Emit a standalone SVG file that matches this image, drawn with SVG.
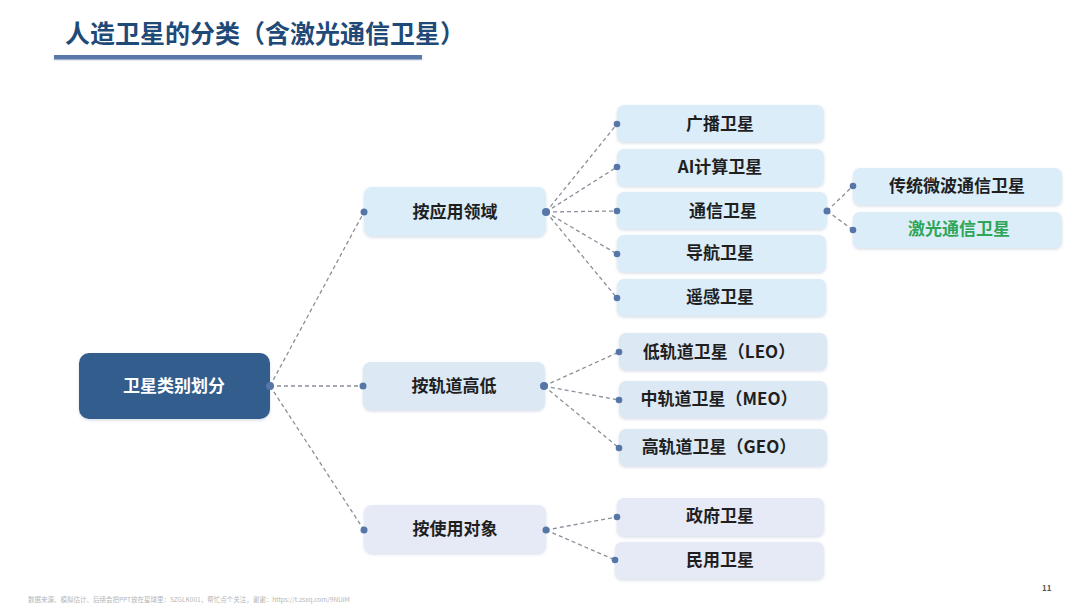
<svg xmlns="http://www.w3.org/2000/svg" width="1080" height="608" viewBox="0 0 1080 608">
<defs>
<filter id="sh" x="-10%" y="-20%" width="120%" height="150%">
<feDropShadow dx="0" dy="1.5" stdDeviation="1.5" flood-color="#8fa3bf" flood-opacity="0.35"/>
</filter>
<style>
text{font-family:"Noto Sans CJK SC","Noto Sans",sans-serif;}
.lbl{font-size:17px;font-weight:700;fill:#1f1f1f;text-anchor:middle;dominant-baseline:central;transform:translate(0px,-2px);}
.b1{fill:#daedf9;}
.b2{fill:#dce8f4;}
.b3{fill:#e6e9f6;}
.ln{fill:none;stroke:#8a8f99;stroke-width:1.3;stroke-dasharray:4 3;}
.dot{fill:#5576a6;}
</style>
</defs>
<rect width="1080" height="608" fill="#ffffff"/>
<g id="title">
<text x="65" y="43" font-size="25" font-weight="700" fill="#1f4a78">人造卫星的分类（含激光通信卫星）</text>
<rect x="54" y="55" width="368" height="4.5" fill="#5a78a9" filter="url(#sh)"/>
</g>
<g id="connectors">
<path class="ln" d="M270 386 L364 212 M270 386 L363 386 M270 386 L364 530"/>
<path class="ln" d="M546 212 L617 124 M546 212 L617 167 M546 212 L617 211 M546 212 L617 254 M546 212 L617 298"/>
<path class="ln" d="M827 211 L853 186 M827 211 L853 230"/>
<path class="ln" d="M544 386 L619 352 M544 386 L619 400 M544 386 L619 448"/>
<path class="ln" d="M546 530 L617 517 M546 530 L615 560"/>
</g>
<g id="root">
<rect x="79" y="353" width="191" height="66" rx="10" fill="#335d8c" filter="url(#sh)"/>
<text x="174" y="386" class="lbl" style="fill:#ffffff">卫星类别划分</text>
</g>
<g id="n-app">
<rect x="364" y="187" width="182" height="49" rx="8" class="b1" filter="url(#sh)"/>
<text x="455" y="212" class="lbl">按应用领域</text>
</g>
<g id="n-orbit">
<rect x="363" y="362" width="182" height="48" rx="8" class="b2" filter="url(#sh)"/>
<text x="454" y="386" class="lbl">按轨道高低</text>
</g>
<g id="n-user">
<rect x="364" y="505" width="182" height="48" rx="8" class="b3" filter="url(#sh)"/>
<text x="455" y="529" class="lbl">按使用对象</text>
</g>
<g id="n-broadcast">
<rect x="617" y="105" width="207" height="37" rx="7" class="b1" filter="url(#sh)"/>
<text x="720" y="124" class="lbl">广播卫星</text>
</g>
<g id="n-ai">
<rect x="617" y="149" width="207" height="37" rx="7" class="b1" filter="url(#sh)"/>
<text x="720" y="167" class="lbl">AI计算卫星</text>
</g>
<g id="n-comm">
<rect x="617" y="192" width="210" height="37" rx="7" class="b1" filter="url(#sh)"/>
<text x="723" y="211" class="lbl">通信卫星</text>
</g>
<g id="n-nav">
<rect x="617" y="235" width="209" height="37" rx="7" class="b1" filter="url(#sh)"/>
<text x="720" y="253" class="lbl">导航卫星</text>
</g>
<g id="n-rs">
<rect x="617" y="279" width="209" height="37" rx="7" class="b1" filter="url(#sh)"/>
<text x="720" y="297" class="lbl">遥感卫星</text>
</g>
<g id="n-microwave">
<rect x="853" y="168" width="209" height="37" rx="7" class="b1" filter="url(#sh)"/>
<text x="957" y="186" class="lbl">传统微波通信卫星</text>
</g>
<g id="n-laser">
<rect x="853" y="212" width="209" height="36" rx="7" class="b1" filter="url(#sh)"/>
<text x="959" y="229" class="lbl" style="fill:#2ea657">激光通信卫星</text>
</g>
<g id="n-leo">
<rect x="619" y="333" width="208" height="37" rx="7" class="b2" filter="url(#sh)"/>
<text x="719" y="352" class="lbl">低轨道卫星（LEO）</text>
</g>
<g id="n-meo">
<rect x="619" y="381" width="208" height="37" rx="7" class="b2" filter="url(#sh)"/>
<text x="719" y="399" class="lbl">中轨道卫星（MEO）</text>
</g>
<g id="n-geo">
<rect x="619" y="429" width="208" height="37" rx="7" class="b2" filter="url(#sh)"/>
<text x="719" y="447" class="lbl">高轨道卫星（GEO）</text>
</g>
<g id="n-gov">
<rect x="617" y="498" width="207" height="38" rx="7" class="b3" filter="url(#sh)"/>
<text x="720" y="516" class="lbl">政府卫星</text>
</g>
<g id="n-civil">
<rect x="615" y="542" width="209" height="37" rx="7" class="b3" filter="url(#sh)"/>
<text x="720" y="560" class="lbl">民用卫星</text>
</g>
<g id="dots">
<circle class="dot" cx="270" cy="386" r="4"/>
<circle class="dot" cx="364" cy="212" r="3.5"/>
<circle class="dot" cx="363" cy="386" r="3.5"/>
<circle class="dot" cx="364" cy="530" r="3.5"/>
<circle class="dot" cx="546" cy="212" r="4"/>
<circle class="dot" cx="544" cy="386" r="4"/>
<circle class="dot" cx="546" cy="530" r="3.5"/>
<circle class="dot" cx="617" cy="124" r="3.3"/>
<circle class="dot" cx="617" cy="167" r="3.3"/>
<circle class="dot" cx="617" cy="211" r="3.3"/>
<circle class="dot" cx="617" cy="254" r="3.3"/>
<circle class="dot" cx="617" cy="298" r="3.3"/>
<circle class="dot" cx="827" cy="211" r="3.5"/>
<circle class="dot" cx="853" cy="186" r="3.3"/>
<circle class="dot" cx="853" cy="230" r="3.3"/>
<circle class="dot" cx="619" cy="352" r="3.3"/>
<circle class="dot" cx="619" cy="400" r="3.3"/>
<circle class="dot" cx="619" cy="448" r="3.3"/>
<circle class="dot" cx="617" cy="517" r="3.3"/>
<circle class="dot" cx="615" cy="560" r="3.3"/>
</g>
<g id="footer">
<text x="28" y="602" font-size="6.5" fill="#b5b5b5">数据来源、模拟估计、后续会把PPT放在星球里：SZGLK001，帮忙点个关注，谢谢：https://t.zsxq.com/9NUiM</text>
<text x="1042" y="591" font-size="8" font-weight="700" fill="#555555">11</text>
</g>
</svg>
